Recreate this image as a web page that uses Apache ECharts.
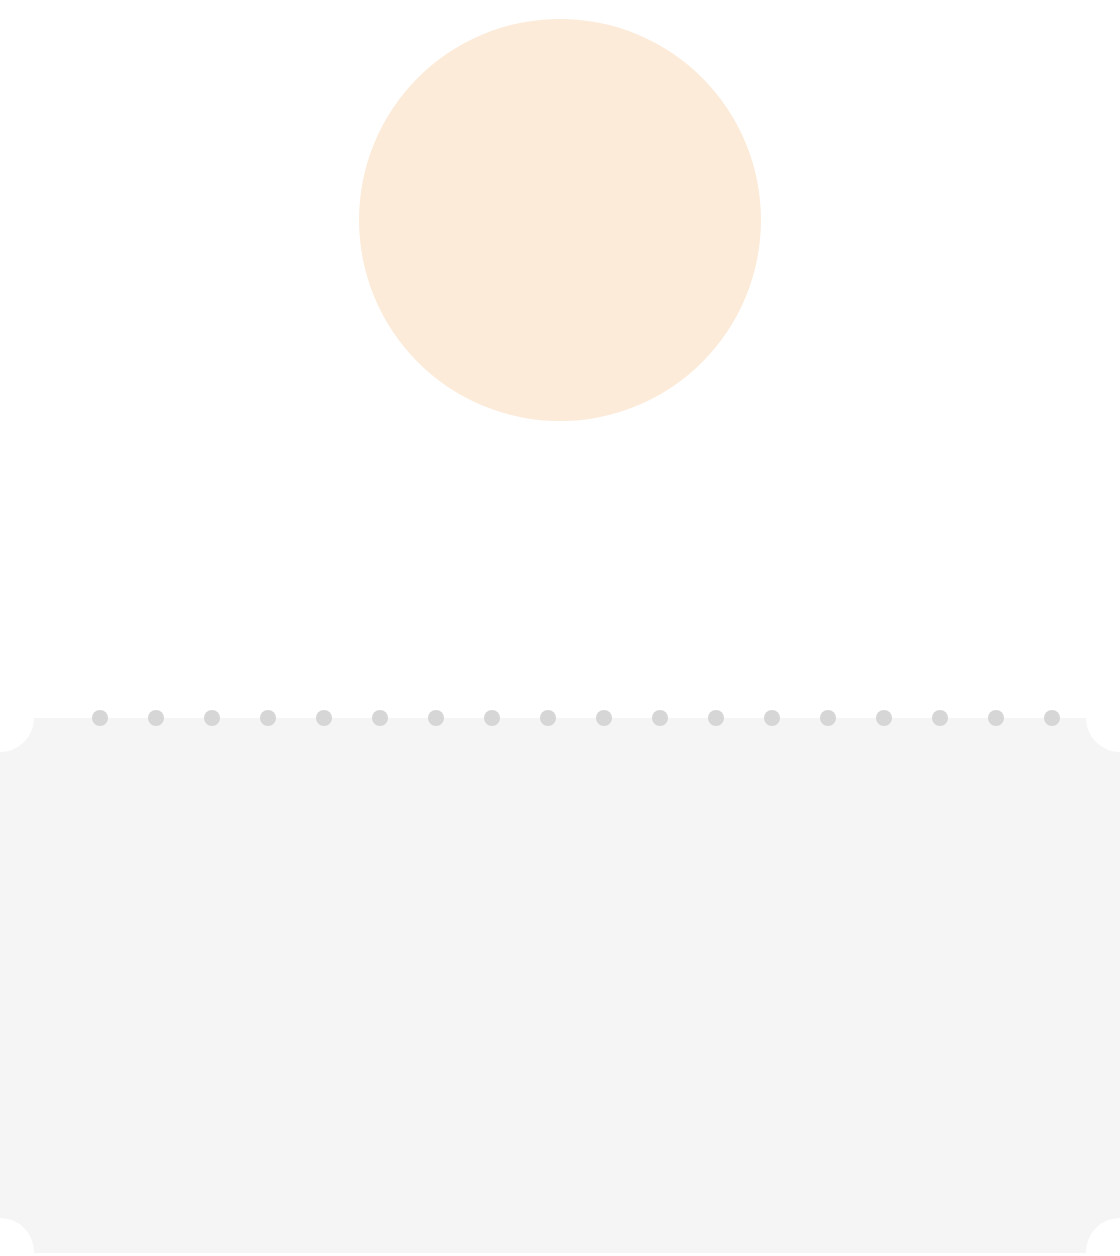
<!DOCTYPE html>
<html>
<head>
<meta charset="utf-8">
<script src="https://cdn.jsdelivr.net/npm/echarts@6/dist/echarts.min.js"></script>
<style>html,body{margin:0;padding:0;background:#fff}#chart{width:1120px;height:1256px}</style>
</head>
<body>
<div id="chart"></div>
<script>
// perforation dots along the ticket edge
const dotX = [100, 156, 212, 268, 324, 380, 436, 492, 548, 604, 660, 716, 772, 828, 884, 940, 996, 1052];
const dotY = 718;
// big sun circle
const circleCenter = [560, 220];
const circleDiameter = 402;

const chart = echarts.init(document.getElementById('chart'));
chart.setOption({
  animation: false,
  grid: { left: 0, right: 0, top: 0, bottom: 0 },
  xAxis: { type: 'value', min: 0, max: 1120, show: false },
  yAxis: { type: 'value', min: 0, max: 1256, inverse: true, show: false },
  graphic: [
    { type: 'rect', z: -10, shape: { x: 0, y: 718, width: 1120, height: 535 }, style: { fill: '#f5f5f5' } },
    { type: 'circle', z: -9, shape: { cx: 0, cy: 718, r: 34 }, style: { fill: '#fff' } },
    { type: 'circle', z: -9, shape: { cx: 1120, cy: 718, r: 34 }, style: { fill: '#fff' } },
    { type: 'circle', z: -9, shape: { cx: 0, cy: 1252, r: 34 }, style: { fill: '#fff' } },
    { type: 'circle', z: -9, shape: { cx: 1120, cy: 1252, r: 34 }, style: { fill: '#fff' } }
  ],
  series: [
    {
      type: 'scatter',
      symbolSize: circleDiameter,
      itemStyle: { color: '#fdebda', opacity: 1 },
      data: [circleCenter]
    },
    {
      type: 'scatter',
      symbolSize: 16,
      itemStyle: { color: '#d6d6d6', opacity: 1 },
      data: dotX.map(x => [x, dotY])
    }
  ]
});
</script>
</body>
</html>
